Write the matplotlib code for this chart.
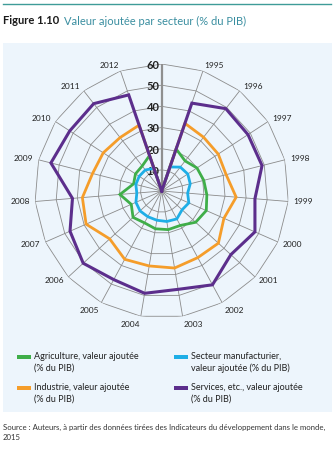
import numpy as np
import matplotlib
matplotlib.use("Agg")
import matplotlib.pyplot as plt
from matplotlib import transforms
from matplotlib.patches import Rectangle

# ---- data ----
categories = ['', '1995', '1996', '1997', '1998', '1999', '2000', '2001', '2002', '2003',
              '2004', '2005', '2006', '2007', '2008', '2009', '2010', '2011', '2012']
agriculture = [0, 21.0, 18.0, 19.9, 20.5, 21.4, 23.0, 21.8, 18.5, 18.5,
               18.1, 17.1, 18.4, 15.7, 19.8, 13.7, 14.8, 15.0, 17.7]
manufacturier = [0, 12.0, 14.3, 14.7, 13.9, 12.3, 14.0, 13.1, 15.0, 14.6,
                 14.0, 13.8, 13.9, 13.3, 11.8, 12.6, 12.7, 12.6, 11.3]
industrie = [0, 33.8, 32.2, 31.9, 31.4, 35.3, 32.1, 36.4, 35.8, 36.9,
             35.9, 36.7, 33.4, 39.0, 37.6, 33.7, 33.0, 32.0, 32.9]
services = [0, 43.9, 49.3, 48.7, 48.9, 44.2, 48.1, 44.4, 50.4, 47.1,
            49.0, 47.6, 50.4, 47.3, 42.3, 54.0, 51.9, 52.3, 48.0]
r_ticks = [10, 20, 30, 40, 50, 60]
series_names = ["Agriculture, valeur ajoutée\n(% du PIB)",
                "Secteur manufacturier,\nvaleur ajoutée (% du PIB)",
                "Industrie, valeur ajoutée\n(% du PIB)",
                "Services, etc., valeur ajoutée\n(% du PIB)"]
colors = ['#3fae49', '#1eaee6', '#f59d2a', '#5c2e8c']

FONT = ['Lato', 'DejaVu Sans']
plt.rcParams['font.family'] = FONT

W, H = 335, 450
fig = plt.figure(figsize=(W / 100, H / 100), dpi=100)
fig.patch.set_facecolor('white')

def fx(px):
    return px / W

def fy(py):
    return 1 - py / H

# top rule
fig.add_artist(plt.Line2D([fx(3), fx(331)], [fy(4), fy(4)], color='#3f9c98', lw=1.0))
# panel
fig.add_artist(Rectangle((fx(3), fy(412)), fx(329), (412 - 43) / H,
                         facecolor='#edf5fc', edgecolor='none', zorder=0))
# title
t1 = fig.text(fx(3), fy(21), "Figure 1.10", fontsize=8, fontweight='bold',
              color='#1a1a1a', va='center', ha='left')
fig.canvas.draw()
bb = t1.get_window_extent()
fig.text(bb.x1 / W + fx(5), fy(21), "Valeur ajoutée par secteur (% du PIB)",
         fontsize=8, color='#3a8ea0', va='center', ha='left')

# polar axes
cx, cy, R = 161.7, 191.0, 127.0
ax = fig.add_axes([fx(cx - R), fy(cy + R), 2 * R / W, 2 * R / H], projection='polar')
ax.set_theta_zero_location('N')
ax.set_theta_direction(-1)
ax.set_ylim(0, 60)
ax.set_xticks([])
ax.set_yticks([])
ax.grid(False)
ax.spines['polar'].set_visible(False)
ax.patch.set_alpha(0)

n = len(categories)
theta = np.arange(n) * 2 * np.pi / n
theta_c = np.append(theta, theta[0])

grid_c = '#8c8c8c'
for r in r_ticks:
    ax.plot(theta_c, [r] * (n + 1), color=grid_c, lw=0.6, zorder=1)
for i, t in enumerate(theta):
    ax.plot([t, t], [0, 60], color='#8a8a8a' if i else '#8f8f8f',
            lw=0.6 if i else 1.6, zorder=1)

# radial labels
off = transforms.offset_copy(ax.transData, fig=fig, x=-2, y=-1.5, units='dots')
for r in r_ticks:
    ax.text(0, r, str(r), transform=off, ha='right', va='center', fontsize=8,
            fontweight='bold', color='#222222', zorder=2)

# category labels
for t, lab in zip(theta, categories):
    if not lab:
        continue
    s, c = np.sin(t), np.cos(t)
    ha = 'left' if s > 0.05 else ('right' if s < -0.05 else 'center')
    va = 'top' if c < -0.7 else 'center'
    ax.text(t, 62.5, lab, ha=ha, va=va, fontsize=6, color='#222222', clip_on=False)

data = [agriculture, manufacturier, industrie, services]
lws = [2.0, 2.0, 2.0, 2.2]
for vals, col, lw in zip(data, colors, lws):
    v = np.append(vals, vals[0])
    ax.plot(theta_c, v, color=col, lw=lw, zorder=3, solid_joinstyle='miter')

# legend
leg_pos = [(17, 357), (174, 357), (17, 388), (174, 388)]
for (lx, ly), col, name in zip(leg_pos, colors, series_names):
    fig.add_artist(Rectangle((fx(lx), fy(ly + 2.2)), fx(14), 4.4 / H,
                             facecolor=col, edgecolor='none'))
    fig.text(fx(lx + 17), fy(ly - 5), name, fontsize=6.5, color='#222222',
             ha='left', va='top', linespacing=1.35)

# source
fig.text(fx(3), fy(424), "Source : Auteurs, à partir des données tirées des Indicateurs du "
         "développement dans le monde,\n2015", fontsize=5.6, color='#333333',
         ha='left', va='top', linespacing=1.5)

fig.savefig('out.png', dpi=100, facecolor='white')
